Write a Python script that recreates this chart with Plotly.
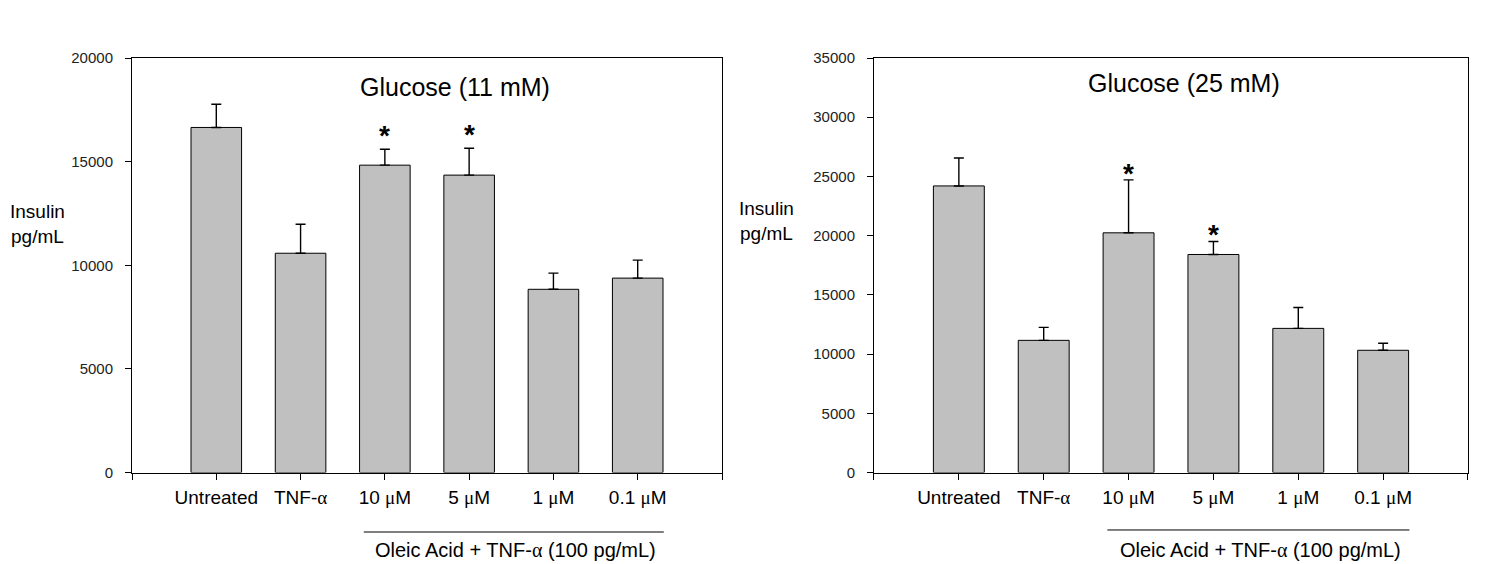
import plotly.graph_objects as go

# treatment groups and insulin secretion (pg/mL)
categories = ["Untreated", "TNF-α", "10 μM", "5 μM", "1 μM", "0.1 μM"]
insulin_11mM = [16650, 10580, 14830, 14350, 8840, 9380]
err_11mM = [1120, 1400, 770, 1300, 780, 870]
insulin_25mM = [24200, 11160, 20240, 18410, 12170, 10320]
err_25mM = [2360, 1100, 4470, 1100, 1770, 590]
significant = [False, False, True, True, False, False]

panel_titles = ["Glucose (11 mM)", "Glucose (25 mM)"]
y_ranges = [[0, 20000], [0, 35000]]
y_dticks = [5000, 5000]
group_label = "Oleic Acid + TNF-<span style='font-family:Liberation Serif'>α</span> (100 pg/mL)"

FONT = "Liberation Sans, Arial, sans-serif"


def fancy(label):
    # greek letters look like they came from the Symbol font
    return (label.replace("α", "<span style='font-family:Liberation Serif'>α</span>")
                 .replace("μ", "<span style='font-family:Liberation Serif'>μ</span>"))


xpos = list(range(len(categories)))
tickvals = [-1] + xpos + [len(categories)]
ticktext = [""] + [fancy(c) for c in categories] + [""]

fig = go.Figure()

panels = [(insulin_11mM, err_11mM), (insulin_25mM, err_25mM)]
# page has an 8px body margin, so everything is placed 8px up/left
x_domains = [[0.08300, 0.47791], [0.57965, 0.97724]]
y_domain = [0.1764, 0.9113]
title_pos = [(0.2992, 0.8599), (0.7871, 0.8676)]
ylabel_pos = [(0.0, 0.617), (0.5080, 0.6223)]
ylabel_anchor = ["left", "center"]
bracket_y = [0.0709, 0.0745]
star_shift = [-4, -11]

for i, (vals, errs) in enumerate(panels):
    n = "" if i == 0 else str(i + 1)
    xr, yr = "x" + n, "y" + n
    fig.add_trace(go.Bar(
        x=xpos, y=vals, width=0.6,
        marker=dict(color="#c0c0c0", line=dict(color="black", width=1)),
        error_y=dict(type="data", symmetric=False, array=errs,
                     arrayminus=[0] * len(errs), color="black",
                     thickness=1.4, width=5),
        xaxis=xr, yaxis=yr, showlegend=False,
    ))
    axis_common = dict(showline=True, linecolor="black", linewidth=1,
                       mirror=True, showgrid=False, zeroline=False,
                       automargin=False,
                       ticks="outside", tickcolor="black", ticklen=6)
    fig.layout["xaxis" + n] = dict(
        axis_common, domain=x_domains[i], range=[-1, len(categories)],
        tickmode="array", tickvals=tickvals, ticktext=ticktext,
        ticklabelstandoff=2,
        tickfont=dict(family=FONT, size=19, color="black"),
        anchor=yr)
    fig.layout["yaxis" + n] = dict(
        axis_common, domain=y_domain, range=y_ranges[i],
        dtick=y_dticks[i], tickformat="d", ticklabelstandoff=9,
        tickfont=dict(family=FONT, size=15, color="#222"),
        anchor=xr)

    # panel title
    fig.add_annotation(x=title_pos[i][0], y=title_pos[i][1],
                       xref="paper", yref="paper", xanchor="center", yanchor="middle",
                       text=panel_titles[i], showarrow=False,
                       font=dict(family=FONT, size=25, color="black"))
    # y label
    fig.add_annotation(x=ylabel_pos[i][0], y=ylabel_pos[i][1],
                       xref="paper", yref="paper", xanchor=ylabel_anchor[i],
                       yanchor="middle",
                       text="Insulin<br>pg/mL", showarrow=False, align="center",
                       font=dict(family=FONT, size=19, color="black"))
    # significance stars
    for j, sig in enumerate(significant):
        if sig:
            fig.add_annotation(x=xpos[j], y=vals[j] + errs[j], xref=xr, yref=yr,
                               text="<b>*</b>", showarrow=False,
                               xanchor="center", yanchor="bottom",
                               yshift=star_shift[i],
                               font=dict(family=FONT, size=28, color="black"))
    # bracket line under oleic acid groups
    fig.add_shape(type="line", xref=xr, yref="paper",
                  x0=1.75, x1=5.31, y0=bracket_y[i], y1=bracket_y[i],
                  line=dict(color="black", width=1))
    fig.add_annotation(x=3.55, y=0.039, xref=xr, yref="paper",
                       xanchor="center", yanchor="middle",
                       text=group_label, showarrow=False,
                       font=dict(family=FONT, size=20, color="black"))

fig.update_layout(
    width=1494, height=564,
    margin=dict(l=0, r=0, t=0, b=0),
    paper_bgcolor="white", plot_bgcolor="white",
)

fig.write_html("out.html")
